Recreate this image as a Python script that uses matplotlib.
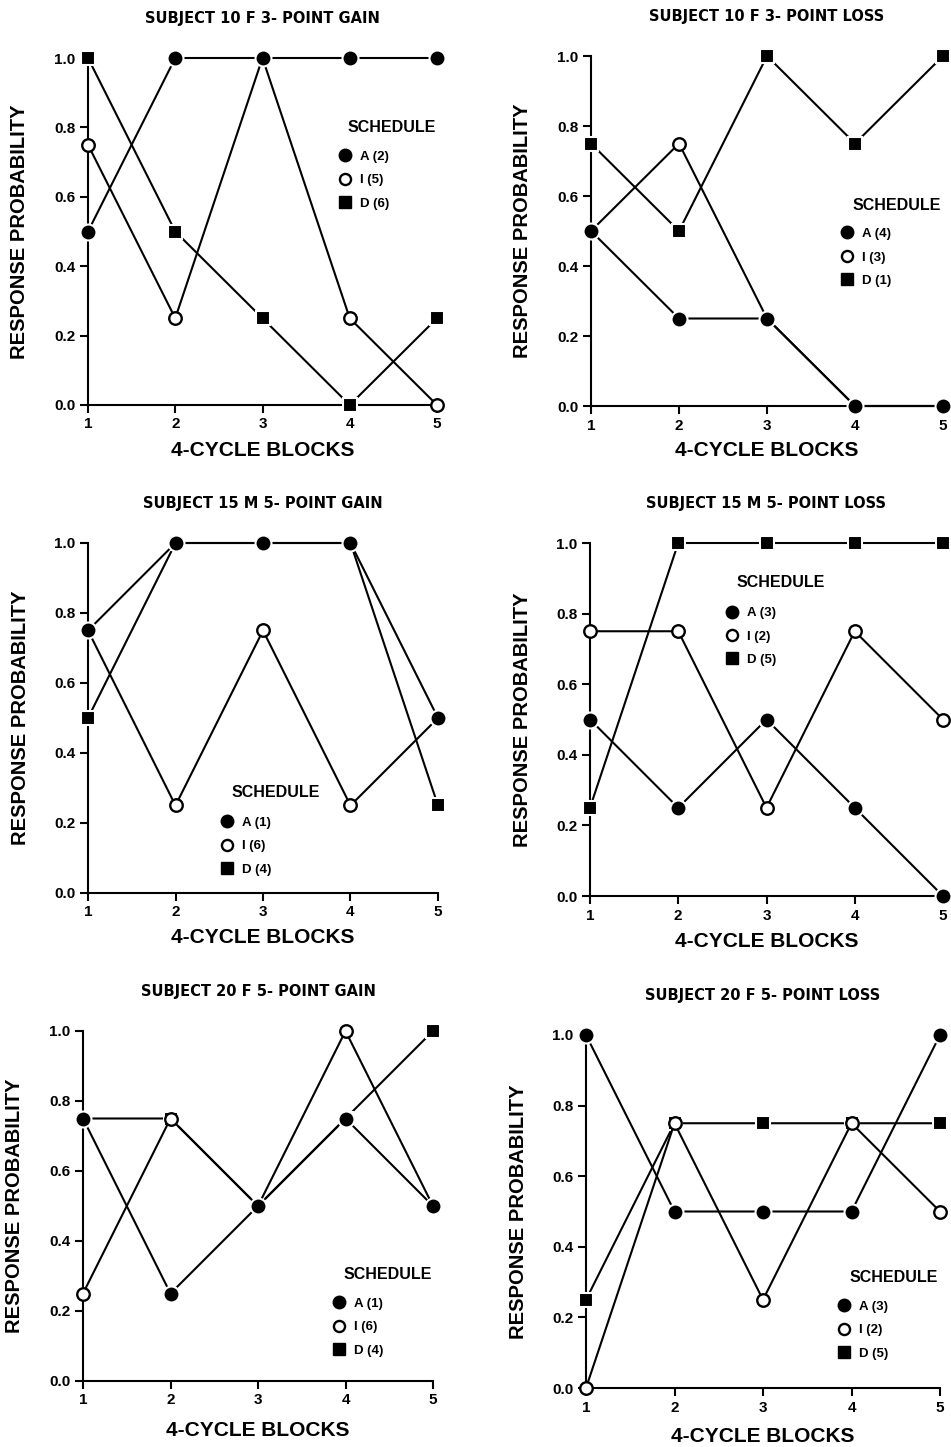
import matplotlib
matplotlib.use("Agg")
import matplotlib.pyplot as plt
from matplotlib.lines import Line2D

plt.rcParams['font.family'] = ['Liberation Sans', 'DejaVu Sans']
plt.rcParams['font.weight'] = 'bold'

blocks = [1, 2, 3, 4, 5]
yticks = [0.0, 0.2, 0.4, 0.6, 0.8, 1.0]

titles = [
    "SUBJECT 10 F 3- POINT GAIN",
    "SUBJECT 10 F 3- POINT LOSS",
    "SUBJECT 15 M 5- POINT GAIN",
    "SUBJECT 15 M 5- POINT LOSS",
    "SUBJECT 20 F 5- POINT GAIN",
    "SUBJECT 20 F 5- POINT LOSS",
]

p1_A = [0.50, 1.00, 1.00, 1.00, 1.00]
p1_I = [0.75, 0.25, 1.00, 0.25, 0.00]
p1_D = [1.00, 0.50, 0.25, 0.00, 0.25]

p2_A = [0.50, 0.25, 0.25, 0.00, 0.00]
p2_I = [0.50, 0.75, 0.25, 0.00, 0.00]
p2_D = [0.75, 0.50, 1.00, 0.75, 1.00]

p3_A = [0.75, 1.00, 1.00, 1.00, 0.50]
p3_I = [0.75, 0.25, 0.75, 0.25, 0.50]
p3_D = [0.50, 1.00, 1.00, 1.00, 0.25]

p4_A = [0.50, 0.25, 0.50, 0.25, 0.00]
p4_I = [0.75, 0.75, 0.25, 0.75, 0.50]
p4_D = [0.25, 1.00, 1.00, 1.00, 1.00]

p5_A = [0.75, 0.25, 0.50, 0.75, 0.50]
p5_I = [0.25, 0.75, 0.50, 1.00, 0.50]
p5_D = [0.75, 0.75, 0.50, 0.75, 1.00]

p6_A = [1.00, 0.50, 0.50, 0.50, 1.00]
p6_I = [0.00, 0.75, 0.25, 0.75, 0.50]
p6_D = [0.25, 0.75, 0.75, 0.75, 0.75]

legend_labels = [
    ["A (2)", "I (5)", "D (6)"],
    ["A (4)", "I (3)", "D (1)"],
    ["A (1)", "I (6)", "D (4)"],
    ["A (3)", "I (2)", "D (5)"],
    ["A (1)", "I (6)", "D (4)"],
    ["A (3)", "I (2)", "D (5)"],
]

series = [
    (p1_A, p1_I, p1_D), (p2_A, p2_I, p2_D), (p3_A, p3_I, p3_D),
    (p4_A, p4_I, p4_D), (p5_A, p5_I, p5_D), (p6_A, p6_I, p6_D),
]

# layout (pixels): left, right, top, bottom of each axes
W, H = 951, 1447
boxes = [
    (88, 437, 58, 405),
    (591, 943, 56, 406),
    (88, 438, 543, 893),
    (590, 943, 543, 896),
    (83, 433, 1031, 1381),
    (586, 940, 1035, 1388),
]
# legend handle-box anchor (axes fraction), SCHEDULE title position (axes fraction)
leg_anchor = [(0.717, 0.733), (0.708, 0.509), (0.378, 0.218),
              (0.383, 0.819), (0.712, 0.238), (0.710, 0.247)]
leg_title = [(0.745, 0.801), (0.744, 0.574), (0.411, 0.286),
             (0.416, 0.887), (0.743, 0.303), (0.743, 0.314)]
xlab_off = [46, 45, 45, 45, 50, 49]

fig = plt.figure(figsize=(W / 100, H / 100), dpi=100)

lw = 1.5
for k in range(6):
    l, r, t, b = boxes[k]
    ax = fig.add_axes([l / W, 1 - b / H, (r - l) / W, (b - t) / H])
    A, I, D = series[k]
    ax.plot(blocks, D, color='black', lw=lw, marker='s', ms=10,
            mfc='black', mec='white', mew=1.5, clip_on=False, zorder=3)
    ax.plot(blocks, I, color='black', lw=lw, marker='o', ms=9,
            mfc='white', mec='black', mew=1.7, clip_on=False, zorder=4)
    ax.plot(blocks, A, color='black', lw=lw, marker='o', ms=11.5,
            mfc='black', mec='white', mew=1.5, clip_on=False, zorder=5)

    ax.set_xlim(1, 5)
    ax.set_ylim(0, 1)
    ax.set_xticks(blocks)
    ax.set_yticks(yticks)
    ax.set_yticklabels([f"{v:.1f}" for v in yticks])
    for s in ['top', 'right']:
        ax.spines[s].set_visible(False)
    for s in ['left', 'bottom']:
        ax.spines[s].set_linewidth(1.5)
    ax.tick_params(axis='both', direction='out', length=6, width=1.5,
                   labelsize=11, pad=3)
    for lab in ax.get_xticklabels() + ax.get_yticklabels():
        lab.set_fontweight('bold')

    ax.set_title(titles[k], fontsize=10.5, fontweight='bold', pad=25,
                 family=['DejaVu Sans'])
    ax.set_xlabel("4-CYCLE BLOCKS", fontsize=15, fontweight='bold')
    ax.set_ylabel("RESPONSE PROBABILITY", fontsize=14.5, fontweight='bold')
    ax.xaxis.label.set_va('center')
    ax.xaxis.set_label_coords(0.5, -xlab_off[k] / (b - t))
    ax.yaxis.label.set_va('center')
    ax.yaxis.set_label_coords(-68 / (r - l), 0.5)

    handles = [
        Line2D([], [], ls='none', marker='o', ms=9, mfc='black', mec='black'),
        Line2D([], [], ls='none', marker='o', ms=8, mfc='white', mec='black', mew=1.7),
        Line2D([], [], ls='none', marker='s', ms=8.5, mfc='black', mec='black'),
    ]
    ax.legend(handles, legend_labels[k], loc='upper left',
              bbox_to_anchor=leg_anchor[k], borderpad=0, borderaxespad=0,
              handlelength=1.0, handletextpad=0.65, labelspacing=0.85,
              frameon=False, prop={'size': 9.5, 'weight': 'bold'})
    ax.text(leg_title[k][0], leg_title[k][1], "SCHEDULE", transform=ax.transAxes,
            ha='left', va='center', fontsize=11.5, fontweight='bold')

fig.savefig("out.png", dpi=100)
